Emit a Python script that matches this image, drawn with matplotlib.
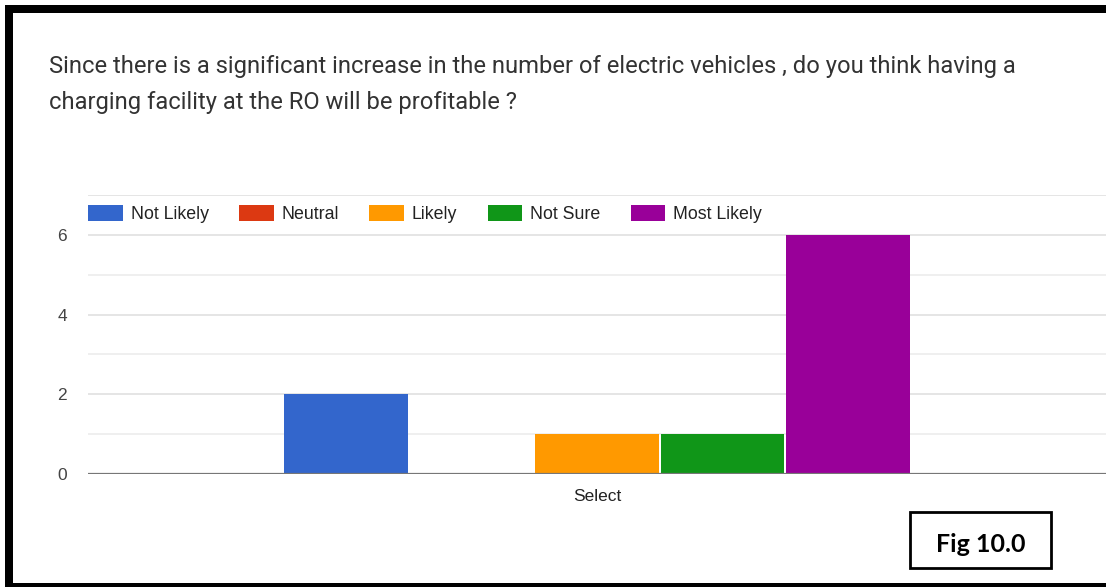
import matplotlib.pyplot as plt
from matplotlib.patches import Rectangle

# survey answers (single category "Select")
categories = ["Select"]
answers = ["Not Likely", "Neutral", "Likely", "Not Sure", "Most Likely"]
counts = [2, 0, 1, 1, 6]
colors = ["#3366cc", "#dc3912", "#ff9900", "#109618", "#990099"]

title = ("Since there is a significant increase in the number of electric vehicles , do you think having a\n"
         "charging facility at the RO will be profitable ?")

W, H = 1106, 587
fig = plt.figure(figsize=(W / 100, H / 100), dpi=100)

# plot area in pixels: x 88..1106, y(0)=474, y(7)=195
ax = fig.add_axes([88 / W, (H - 474) / H, 1 - 88 / W, (474 - 195) / H])

n = len(answers)
bw = 1.0
for i, (lab, c, col) in enumerate(zip(answers, counts, colors)):
    ax.bar(i - (n - 1) / 2, c, width=bw * 0.985, color=col, label=lab, zorder=3)

half = 509 / 125.4
ax.set_xlim(-half, half)
ax.set_ylim(0, 7)
ax.set_xticks([0])
ax.set_xticklabels(categories, fontsize=12.5, color="#222222", family="Liberation Sans")
ax.set_yticks([0, 2, 4, 6])
ax.set_yticklabels(["0", "2", "4", "6"], fontsize=12.5, color="#444444", family="Liberation Sans")
ax.tick_params(axis="x", length=0, pad=11)
ax.tick_params(axis="y", length=0, pad=15)

for y in range(1, 8):
    ax.axhline(y, color="#e0e0e0" if y % 2 == 0 or y == 7 else "#ececec", lw=1.2, zorder=1)
ax.axhline(0, color="#777777", lw=1.6, zorder=4)
for s in ax.spines.values():
    s.set_visible(False)

leg = ax.legend(ncol=5, loc="upper left", bbox_to_anchor=(0.0, 0.964), frameon=False,
                handlelength=1.95, handleheight=1.0, handletextpad=0.45, columnspacing=1.7,
                borderaxespad=0, borderpad=0.0,
                prop={"family": "Liberation Sans", "size": 12.8})
for t in leg.get_texts():
    t.set_color("#222222")

fig.text(49 / W, 1 - 55 / H, title, fontsize=17.15, family="Roboto", color="#333333",
         va="top", ha="left", linespacing=1.7)

# black frame around the screenshot
fig.add_artist(Rectangle((5 / W, 0), 8 / W, 1 - 5 / H, transform=fig.transFigure,
                         color="black", lw=0))
fig.add_artist(Rectangle((5 / W, 1 - 13 / H), 1, 8 / H, transform=fig.transFigure,
                         color="black", lw=0))
fig.add_artist(Rectangle((5 / W, 0), 1, 4 / H, transform=fig.transFigure,
                         color="black", lw=0))

# figure label box
fig.add_artist(Rectangle((910 / W, 1 - 568 / H), 141 / W, 56 / H, transform=fig.transFigure,
                         facecolor="white", edgecolor="black", lw=2))
fig.text(980.5 / W, 1 - 544 / H, "Fig 10.0", fontsize=18, family="Lato", weight="bold",
         ha="center", va="center", color="black")

fig.savefig("out.png", dpi=100)
